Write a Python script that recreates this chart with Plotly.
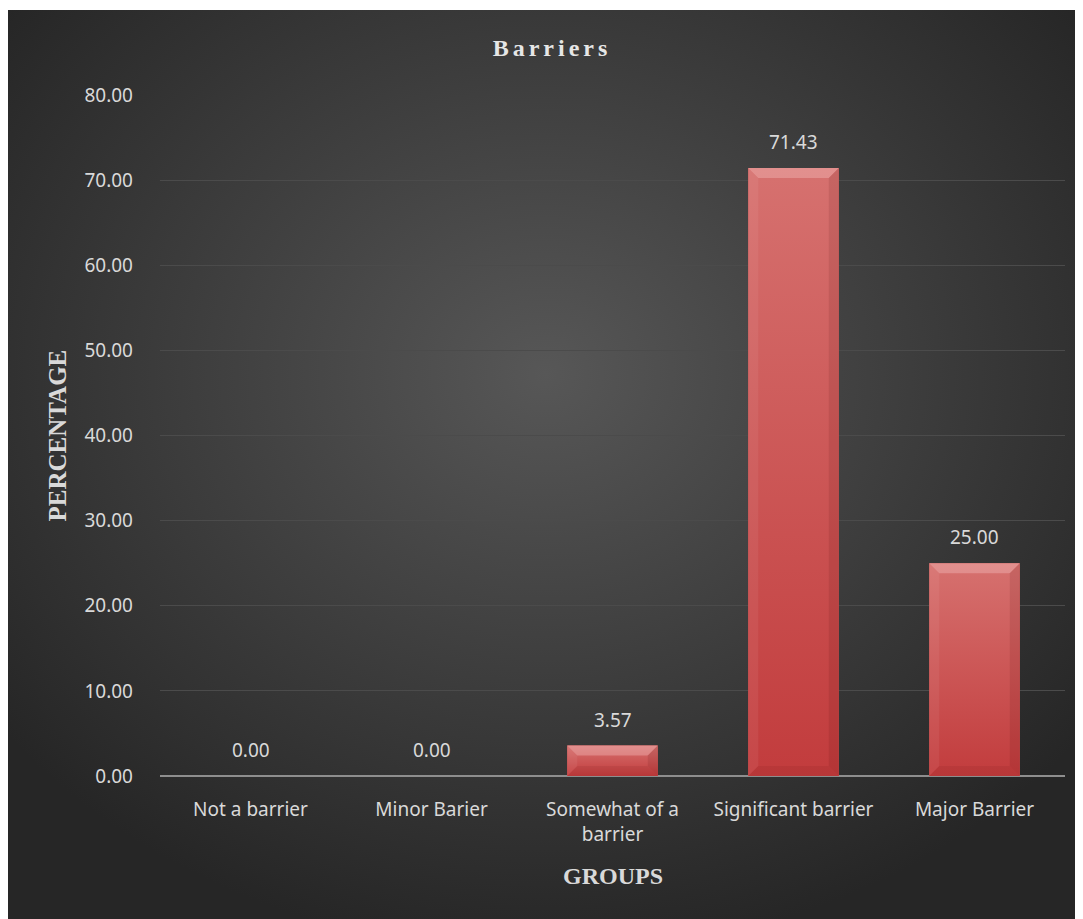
import base64
import plotly.graph_objects as go

categories = ["Not a barrier", "Minor Barier", "Somewhat of a<br>barrier", "Significant barrier", "Major Barrier"]
values = [0.00, 0.00, 3.57, 71.43, 25.00]
y_ticks = [0, 10, 20, 30, 40, 50, 60, 70, 80]

# page has an 8px body margin, figure is laid out in its own coordinates
W, H = 1075, 911
ml, mr, mt, mb = 152, 18, 87, 143
pw, ph = W - ml - mr, H - mt - mb
YMAX = 80
n = len(categories)
half = 0.25  # half bar width in category units

svg = (
    '<svg xmlns="http://www.w3.org/2000/svg" width="1076" height="909" preserveAspectRatio="none">'
    '<defs><radialGradient id="g" cx="0.5" cy="0.40" r="0.64">'
    '<stop offset="0" stop-color="#575757"/><stop offset="1" stop-color="#262626"/>'
    '</radialGradient></defs><rect width="1076" height="909" fill="url(#g)"/></svg>'
)
src = "data:image/svg+xml;base64," + base64.b64encode(svg.encode()).decode()

idx = list(range(n))
fig = go.Figure()
fig.add_trace(go.Bar(
    x=idx, y=values, width=2 * half,
    marker=dict(color="#cd5250", line=dict(width=0)),
    hoverinfo="skip",
))

# bevel / gradient shading over each bar (derived from values through the axes)
bx = 10 / (pw / n)
by = 10 / (ph / YMAX)
for i, v in zip(idx, values):
    if v <= 0:
        continue
    x0, x1 = i - half, i + half
    fig.add_trace(go.Scatter(
        x=[x0, x1, x1, x0, x0], y=[0, 0, v, v, 0], mode="lines", line=dict(width=0),
        fill="toself", fillgradient=dict(type="vertical", colorscale=[[0, "#c23c3d"], [1, "#d6716f"]]),
        hoverinfo="skip", showlegend=False))
    b = min(by, v / 3)
    # top bevel (light)
    fig.add_trace(go.Scatter(
        x=[x0, x1, x1 - bx, x0 + bx, x0], y=[v, v, v - b, v - b, v], mode="lines", line=dict(width=0),
        fill="toself", fillcolor="rgba(255,215,215,0.30)", hoverinfo="skip", showlegend=False))
    # left bevel (slightly light)
    fig.add_trace(go.Scatter(
        x=[x0, x0 + bx, x0 + bx, x0, x0], y=[v, v - b, b, 0, v], mode="lines", line=dict(width=0),
        fill="toself", fillcolor="rgba(255,230,230,0.07)", hoverinfo="skip", showlegend=False))
    # right bevel (slightly dark)
    fig.add_trace(go.Scatter(
        x=[x1, x1 - bx, x1 - bx, x1, x1], y=[v, v - b, b, 0, v], mode="lines", line=dict(width=0),
        fill="toself", fillcolor="rgba(60,0,0,0.10)", hoverinfo="skip", showlegend=False))
    # bottom bevel (dark)
    fig.add_trace(go.Scatter(
        x=[x0, x1, x1 - bx, x0 + bx, x0], y=[0, 0, b, b, 0], mode="lines", line=dict(width=0),
        fill="toself", fillcolor="rgba(60,0,0,0.07)", hoverinfo="skip", showlegend=False))

annotations = [
    dict(x=i, y=v, xref="x", yref="y", text=f"{v:.2f}", showarrow=False,
         yanchor="middle", yshift=26,
         font=dict(family="Noto Sans", size=19, color="#d9d9d9"))
    for i, v in zip(idx, values)
]
annotations.append(dict(
    text="<b>GROUPS</b>", xref="paper", yref="paper", x=0.5, y=-(868 - (H - mb)) / ph,
    xanchor="center", yanchor="middle", showarrow=False,
    font=dict(family="Liberation Serif", size=24, color="#d9d9d9")))
annotations.append(dict(
    text="<b>PERCENTAGE</b>", xref="paper", yref="paper", x=-(ml - 49) / pw, y=0.5,
    xanchor="center", yanchor="middle", textangle=-90, showarrow=False,
    font=dict(family="Liberation Serif", size=25, color="#d9d9d9")))

fig.update_layout(
    width=W, height=H,
    margin=dict(l=ml, r=mr, t=mt, b=mb),
    paper_bgcolor="white", plot_bgcolor="rgba(0,0,0,0)",
    showlegend=False,
    title=dict(text="<b>" + "\u2006".join("Barriers") + "</b>", x=542 / W, xref="container", xanchor="center",
               y=1 - 40 / H, yref="container", yanchor="middle",
               font=dict(family="Liberation Serif", size=24, color="#e6e6e6")),
    images=[dict(source=src, xref="paper", yref="paper",
                 x=(0 - ml) / pw, y=(H - mb - 2) / ph,
                 sizex=W / pw, sizey=(H - 2) / ph,
                 xanchor="left", yanchor="top", sizing="stretch", layer="below")],
    annotations=annotations,
)
fig.update_xaxes(
    range=[-0.5, n - 0.5], tickvals=idx, ticktext=categories,
    showgrid=False, showline=False, zeroline=False,
    tickfont=dict(family="Noto Sans", size=19, color="#d9d9d9"),
    ticklabelstandoff=20,
)
fig.update_yaxes(
    range=[0, YMAX], tickvals=y_ticks, tickformat=".2f",
    showgrid=True, gridcolor="#4b4b4b", gridwidth=1,
    zeroline=True, zerolinecolor="#8e8e8e", zerolinewidth=2,
    tickfont=dict(family="Noto Sans", size=19, color="#d9d9d9"),
    ticklabelstandoff=26,
)

fig.write_html("out.html")
